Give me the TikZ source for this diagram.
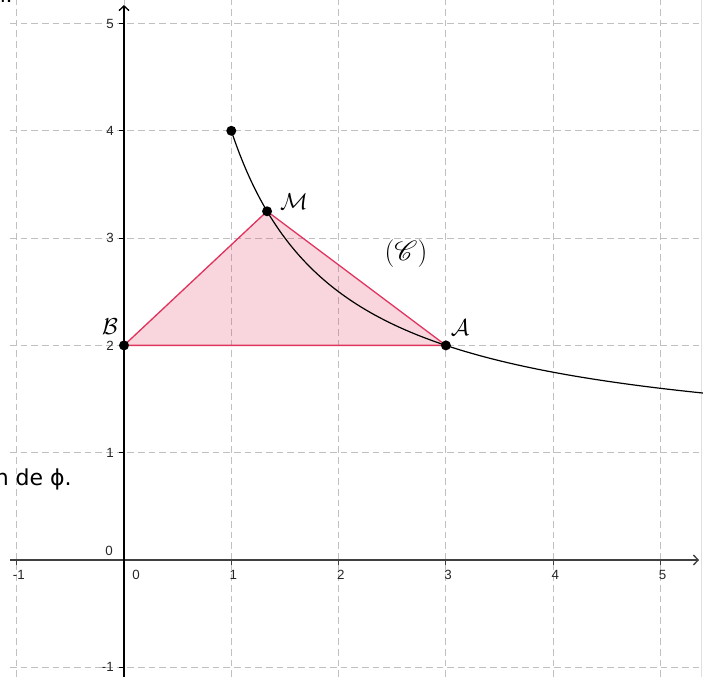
\documentclass[tikz,border=0pt]{standalone}
\usepackage{fontspec}
\usepackage{mathrsfs}
\newfontfamily\ticksfont{Liberation Sans}
\newfontfamily\txtfont{DejaVu Sans}
\usetikzlibrary{arrows.meta}
\definecolor{gridgray}{RGB}{192,192,192}
\definecolor{polyedge}{RGB}{224,52,92}
\begin{document}
\begin{tikzpicture}[x=80.475pt,y=80.475pt,
  gridline/.style={gridgray, line width=0.7pt, dash pattern=on 5pt off 3pt},
  axisline/.style={line width=1pt, -{Straight Barb[length=3.5pt,width=7.5pt]}},
  tickmark/.style={line width=0.8pt},
  ticklab/.style={font=\ticksfont\fontsize{10}{11}\selectfont, text=black!85, inner sep=0pt},
  ptlab/.style={font=\fontsize{18}{20}\selectfont, inner sep=0pt},
  dot/.style={circle, fill=black, inner sep=0pt, minimum size=7.5pt},
  txt/.style={font=\txtfont\fontsize{16.5}{19}\selectfont, inner sep=0pt}]
\useasboundingbox (-1.1556,-1.0904) rectangle (5.3960,5.2190);
% grid
\foreach \y in {-1,...,5} \draw[gridline] (-1.062,\y) -- (5.396,\y);
\foreach \x in {-1,...,5} \draw[gridline] (\x,-1.0904) -- (\x,5.219);
\draw[black!12, line width=0.6pt] (5.377,-1.0904) -- (5.377,5.219);
% points
\coordinate (P) at (1,4);
\coordinate (M) at (4/3,13/4);
\coordinate (A) at (3,2);
\coordinate (B) at (0,2);
% triangle
\fill[polyedge, fill opacity=0.2] (B) -- (M) -- (A) -- cycle;
% axes
\coordinate (xs) at (-1.062,0);
\coordinate (xe) at (5.359,0);
\coordinate (ys) at (0,-1.0904);
\coordinate (ye) at (0,5.172);
\draw[axisline, black!75] (xs) -- (xe);
\draw[axisline, black] (ys) -- (ye);
\foreach \x in {-1,1,2,3,4,5} {
  \draw[tickmark, black!75] (\x,0) -- (\x,-0.045);
  \node[ticklab, anchor=north] (xl\x) at (\x+0.02,-0.093) {\x};
}
\node[ticklab, anchor=north] (xl0) at (0.112,-0.093) {0};
\foreach \y in {-1,1,2,3,4,5} {
  \draw[tickmark] (-0.045,\y) -- (0,\y);
  \node[ticklab, anchor=east] (yl\y) at (-0.093,\y) {\y};
}
\node[ticklab, anchor=south east] (yl0) at (-0.102,0.037) {0};
\draw[polyedge, line width=1pt, line join=round] (B) -- (M) -- (A) -- cycle;
% curve
\draw[line width=0.9pt, domain=1:5.396, samples=120, smooth] plot (\x,{1+3/\x});
% dots
\node[dot] (dP) at (P) {};
\node[dot] (dM) at (M) {};
\node[dot] (dA) at (A) {};
\node[dot] (dB) at (B) {};
% labels
\node[ptlab] (lM) at (1.585,3.337) {$\mathcal{M}$};
\node[ptlab] (lA) at (3.131,2.167) {$\mathcal{A}$};
\node[ptlab] (lB) at (-0.130,2.171) {$\mathcal{B}$};
\node[font=\fontsize{20.5}{22}\selectfont, inner sep=0pt] (lC) at (2.628,2.856) {$(\mathscr{C})$};
% cut text
\node[txt, anchor=base east] (note) at (-0.4846,0.6925) {n de ϕ.};
\node[txt, anchor=base east] (topnote) at (-1.0345,5.191) {n.};
\end{tikzpicture}
\end{document}
